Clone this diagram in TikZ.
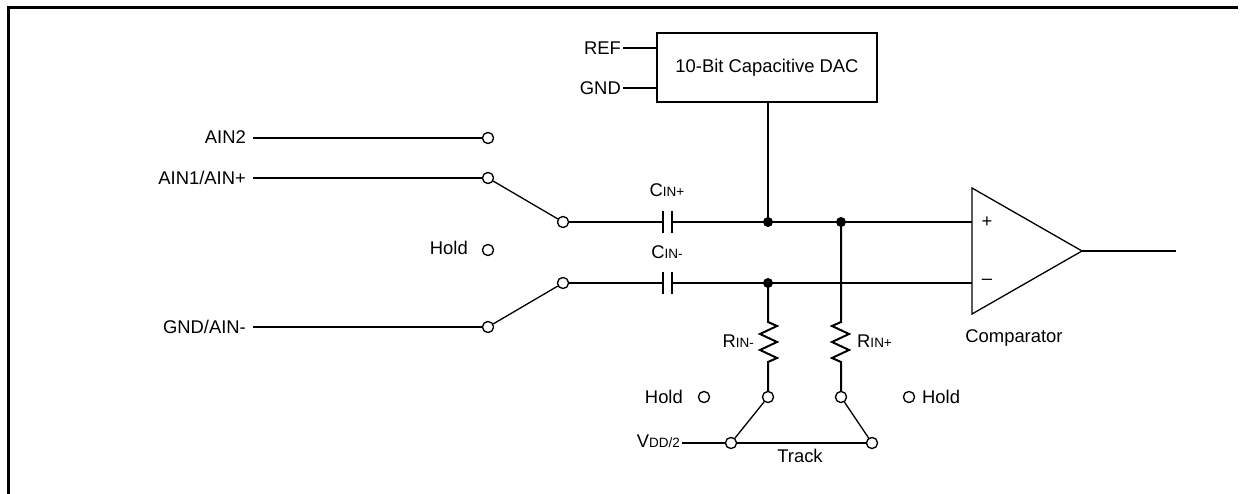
\documentclass[tikz,border=0pt]{standalone}
\usepackage{fontspec}
\setmainfont{Liberation Sans}
\newcommand\subtxt[1]{{\fontsize{13.5}{15}\selectfont #1}}
\begin{document}
\begin{tikzpicture}[x=1pt,y=-1pt,
 wire/.style={line width=2.2pt},
 swline/.style={line width=1.3pt},
 term/.style={circle,draw,fill=white,inner sep=0pt,minimum size=11pt,line width=1.2pt},
 jdot/.style={circle,fill=black,inner sep=0pt,minimum size=10pt},
 lbl/.style={inner sep=0pt,font=\fontsize{18.4}{20}\selectfont},
 plate/.style={line width=2.4pt}]
\useasboundingbox (0,0) rectangle (1248,494);
% frame
\draw[line width=3pt,line join=miter] (8,494) -- (8,8) -- (1238,8);

% DAC
\node[draw,line width=2pt,minimum width=220pt,minimum height=69pt,lbl] (dac) at (767,68) {10-Bit Capacitive DAC};
\node[lbl,anchor=base east] (ref) at (621,54.7) {REF};
\node[lbl,anchor=base east] (gnd) at (621,94.7) {GND};
\coordinate (refs) at (623,48);
\coordinate (gnds) at (623,88);
\draw[wire] (refs) -- (refs -| dac.west);
\draw[wire] (gnds) -- (gnds -| dac.west);

% input labels
\node[lbl,anchor=base east] (lA2) at (246,144) {AIN2};
\node[lbl,anchor=base east] (lA1) at (246,185) {AIN1/AIN+};
\node[lbl,anchor=base east] (lG) at (246,334) {GND/AIN-};
\node[lbl,anchor=base east] (lH1) at (468,255) {Hold};
\coordinate (sA2) at (253,138);
\coordinate (sA1) at (253,178);
\coordinate (sG) at (253,327);

% terminals (input mux)
\node[term] (tA2) at (488,138) {};
\node[term] (tA1) at (488,178) {};
\node[term] (tH1) at (488,250) {};
\node[term] (tG) at (488,327) {};
\node[term] (tP) at (563,222) {};
\node[term] (tN) at (563,283) {};

\draw[wire] (sA2) -- (tA2);
\draw[wire] (sA1) -- (tA1);
\draw[wire] (sG) -- (tG);
\draw[swline] (tA1) -- (tP);
\draw[swline] (tG) -- (tN);

% capacitors
\coordinate (cp1) at (663,222);
\coordinate (cp2) at (672,222);
\coordinate (cn1) at (663,283);
\coordinate (cn2) at (672,283);
\draw[wire] (tP) -- (cp1);
\draw[wire] (tN) -- (cn1);
\draw[plate] ([yshift=-11pt]cp1) -- ([yshift=11pt]cp1);
\draw[plate] ([yshift=-11pt]cp2) -- ([yshift=11pt]cp2);
\draw[plate] ([yshift=-11pt]cn1) -- ([yshift=11pt]cn1);
\draw[plate] ([yshift=-11pt]cn2) -- ([yshift=11pt]cn2);
\node[lbl,anchor=base] (lCp) at (667,197) {C\subtxt{IN+}};
\node[lbl,anchor=base] (lCn) at (667,259) {C\subtxt{IN-}};

% comparator
\coordinate (cmpT) at (972,188);
\coordinate (cmpB) at (972,314);
\coordinate (cmpO) at (1082,251);
\coordinate (cmpP) at (972,222);
\coordinate (cmpN) at (972,283);
\coordinate (outE) at (1176,251);
\draw[line width=1.3pt,line join=miter] (cmpT) -- (cmpO) -- (cmpB) -- cycle;
\node[lbl] (plus) at (987,222) {+};
\node[lbl] (minus) at (987,282) {–};
\node[lbl,anchor=base] (lCmp) at (1014,342) {Comparator};
\draw[wire] (cmpO) -- (outE);

% junctions
\node[jdot] (j1) at (768,222) {};
\node[jdot] (j2) at (841,222) {};
\node[jdot] (j3) at (768,283) {};

\draw[wire] (cp2) -- (cmpP);
\draw[wire] (cn2) -- (cmpN);
\draw[wire] (dac.south -| j1) -- (j1.center);

% resistors
\coordinate (rn1) at (768,322);
\coordinate (rn2) at (768,362);
\coordinate (rp1) at (841,322);
\coordinate (rp2) at (841,362);
\node[term] (tRn) at (768,397) {};
\node[term] (tRp) at (841,397) {};
\node[term] (tH2) at (704,397) {};
\node[term] (tH3) at (909,397) {};
\node[term] (tV1) at (731,443) {};
\node[term] (tV2) at (872,443) {};

\draw[line width=2pt,line join=miter] (j3.center) -- (rn1) -- ++(9,4) -- ++(-17,8) -- ++(17,8) -- ++(-17,8) -- ++(17,8) -- (rn2) -- (tRn);
\draw[line width=2pt,line join=miter] (j2.center) -- (rp1) -- ++(-9,4) -- ++(17,8) -- ++(-17,8) -- ++(17,8) -- ++(-17,8) -- (rp2) -- (tRp);
\node[lbl,anchor=base east] (lRn) at (754,348) {R\subtxt{IN-}};
\node[lbl,anchor=base west] (lRp) at (857,348) {R\subtxt{IN+}};

\node[lbl,anchor=base east] (lH2) at (683,403) {Hold};
\node[lbl,anchor=base west] (lH3) at (922,403) {Hold};
\node[lbl,anchor=base east] (lV) at (680,447) {V\subtxt{DD/2}};
\coordinate (vs) at (682,443);
\draw[wire] (vs) -- (tV1);
\draw[wire] (tV1) -- (tV2);
\draw[swline] (tRn) -- (tV1);
\draw[swline] (tRp) -- (tV2);
\node[lbl,anchor=base] (lTr) at (800,462) {Track};

% redraw terminals on top
\foreach \p in {{488,138},{488,178},{488,250},{488,327},{563,222},{563,283},{768,397},{841,397},{704,397},{909,397},{731,443},{872,443}}
  \node[term] at (\p) {};
\end{tikzpicture}
\end{document}
